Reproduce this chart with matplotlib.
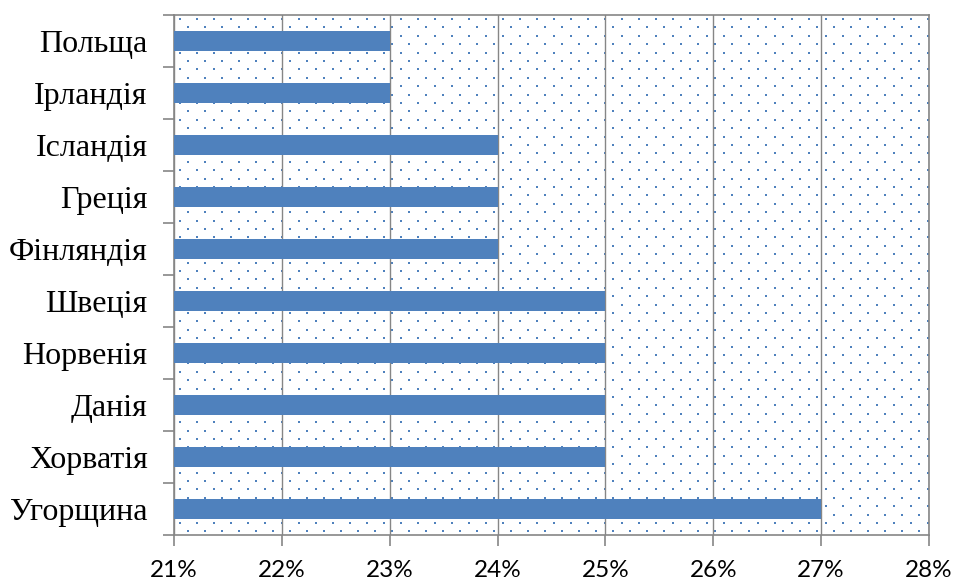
import matplotlib.pyplot as plt
import numpy as np
from matplotlib.ticker import FixedLocator, FuncFormatter

countries = ['Угорщина', 'Хорватія', 'Данія', 'Норвенія', 'Швеція',
             'Фінляндія', 'Греція', 'Ісландія', 'Ірландія', 'Польща']
shares = [27, 25, 25, 25, 25, 24, 24, 24, 23, 23]
x_ticks = [21, 22, 23, 24, 25, 26, 27, 28]

bar_color = '#4F81BD'
axis_gray = '#868686'

fig = plt.figure(figsize=(9.54, 5.81), dpi=100)
ax = fig.add_axes([0.1824, 0.0792, 0.7914, 0.895])

# dotted fill of the plot area (staggered rows, ~17 px apart in a row)
w_px, h_px = 0.7914 * 954, 0.895 * 581
rows = np.arange(4, h_px, 8.4)
gx, gy = [], []
for i, ry in enumerate(rows):
    xs = np.arange(8 if i % 2 else 0, w_px, 17.0) + 6
    gx.extend(xs / w_px)
    gy.extend([1 - ry / h_px] * len(xs))
ax.scatter(gx, gy, s=2.2, marker='s', color=bar_color, linewidths=0,
           transform=ax.transAxes, zorder=0.5, clip_on=True)

y = np.arange(len(countries))
ax.barh(y, [s - 21 for s in shares], left=21, height=0.4,
        color=bar_color, zorder=3)

ax.set_xlim(21, 28)
ax.set_ylim(-0.5, len(countries) - 0.5)

ax.set_xticks(x_ticks)
ax.xaxis.set_major_formatter(FuncFormatter(lambda v, p: f'{v:.0f}%'))
ax.grid(axis='x', color=axis_gray, linewidth=1.0, zorder=1)
ax.set_axisbelow(False)

ax.set_yticks(y)
ax.set_yticklabels(countries, family='Liberation Serif', fontsize=23)
ax.yaxis.set_minor_locator(FixedLocator(np.arange(-0.5, len(countries), 1)))
ax.tick_params(axis='y', which='major', length=0, pad=19)
ax.tick_params(axis='y', which='minor', length=8, width=1.2, color=axis_gray)
ax.tick_params(axis='x', length=8, width=1.2, color=axis_gray, pad=10)
for lbl in ax.get_xticklabels():
    lbl.set_family('Lato')
    lbl.set_fontsize(17.5)

for side in ['left', 'right', 'top', 'bottom']:
    ax.spines[side].set_color(axis_gray)
    ax.spines[side].set_linewidth(1.2)

fig.savefig('out.png', dpi=100)
